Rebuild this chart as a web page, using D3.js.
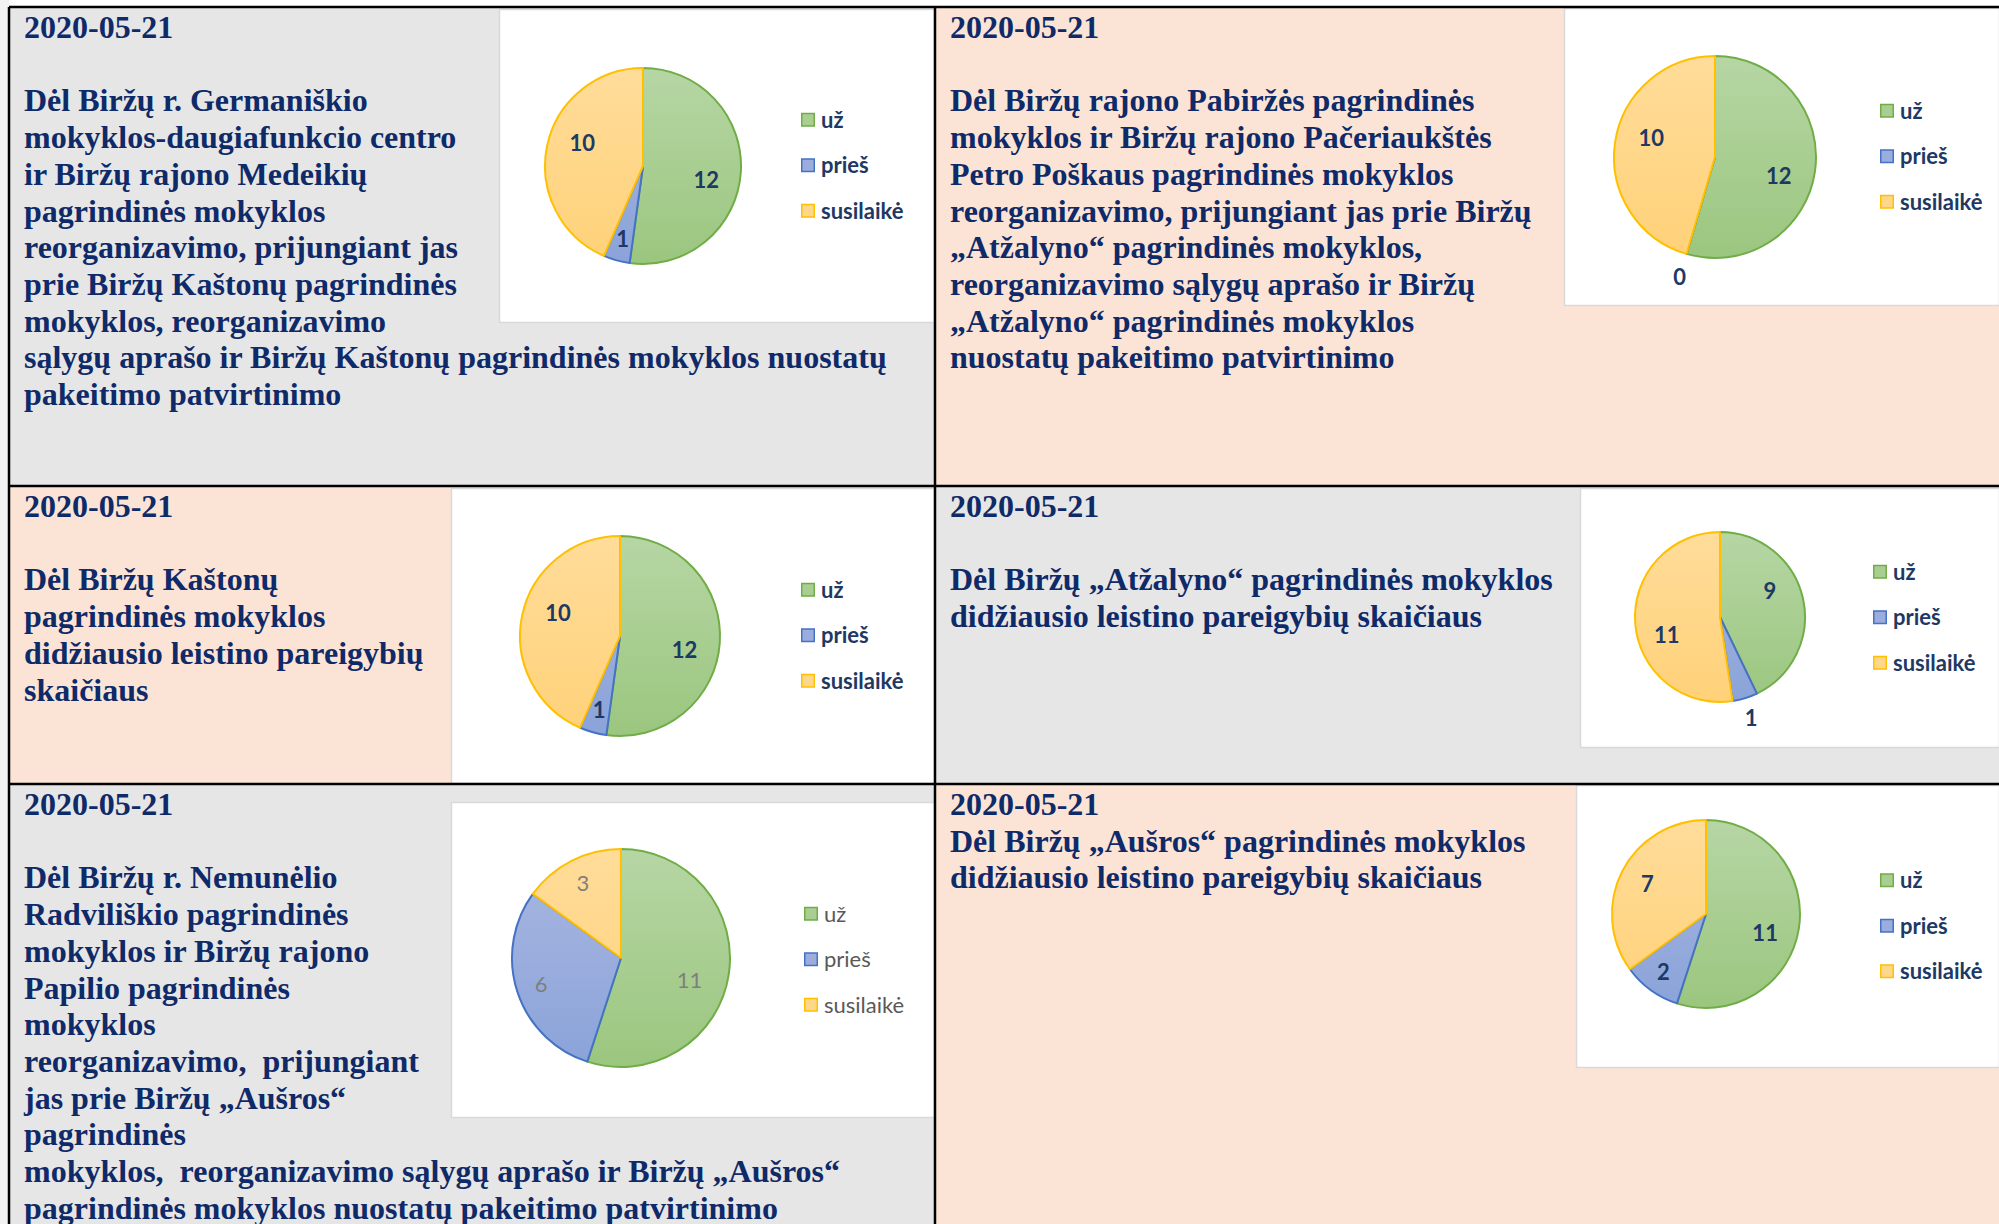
<!DOCTYPE html>
<html>
<head>
<meta charset="utf-8">
<script src="https://cdn.jsdelivr.net/npm/d3@7"></script>
<style>
  html, body { margin: 0; padding: 0; background: #fff; }
  svg { display: block; }
  .body-text { font-family: "Liberation Serif", "Times New Roman", serif; font-weight: bold; font-size: 32px; fill: #0f2a68; }
  .lab { font-family: Lato, "Open Sans", sans-serif; font-size: 22px; }
  .leg { font-family: Lato, "Open Sans", sans-serif; font-size: 22px; }
</style>
</head>
<body>
<div id="chart"></div>
<script>
"use strict";

var categories = ["už", "prieš", "susilaikė"];
var dates = ["2020-05-21", "2020-05-21", "2020-05-21", "2020-05-21", "2020-05-21", "2020-05-21"];
var votes = [[12, 1, 10], [12, 0, 10], [12, 1, 10], [9, 1, 11], [11, 6, 3], [11, 2, 7]];
var titles = [
  ["", "Dėl Biržų r. Germaniškio", "mokyklos-daugiafunkcio centro", "ir Biržų rajono Medeikių",
   "pagrindinės mokyklos", "reorganizavimo, prijungiant jas", "prie Biržų Kaštonų pagrindinės",
   "mokyklos, reorganizavimo", "sąlygų aprašo ir Biržų Kaštonų pagrindinės mokyklos nuostatų",
   "pakeitimo patvirtinimo"],
  ["", "Dėl Biržų rajono Pabiržės pagrindinės", "mokyklos ir Biržų rajono Pačeriaukštės",
   "Petro Poškaus pagrindinės mokyklos", "reorganizavimo, prijungiant jas prie Biržų",
   "„Atžalyno“ pagrindinės mokyklos,", "reorganizavimo sąlygų aprašo ir Biržų",
   "„Atžalyno“ pagrindinės mokyklos", "nuostatų pakeitimo patvirtinimo"],
  ["", "Dėl Biržų Kaštonų", "pagrindinės mokyklos", "didžiausio leistino pareigybių", "skaičiaus"],
  ["", "Dėl Biržų „Atžalyno“ pagrindinės mokyklos", "didžiausio leistino pareigybių skaičiaus"],
  ["", "Dėl Biržų r. Nemunėlio", "Radviliškio pagrindinės", "mokyklos ir Biržų rajono",
   "Papilio pagrindinės", "mokyklos", "reorganizavimo,\u00a0 prijungiant", "jas prie Biržų „Aušros“",
   "pagrindinės", "mokyklos,\u00a0 reorganizavimo sąlygų aprašo ir Biržų „Aušros“",
   "pagrindinės mokyklos nuostatų pakeitimo patvirtinimo"],
  ["Dėl Biržų „Aušros“ pagrindinės mokyklos", "didžiausio leistino pareigybių skaičiaus"]
];

var W = 1999, H = 1224;
var GRAY = "#e7e6e6", PEACH = "#fbe4d5";

// cell + chart box placement
var panels = [
  { cell: [9, 7, 926, 479], bg: GRAY, tx: 24, box: [499, 9, 435, 313], cx: 643, cy: 166, r: 98, legX: 801, turn: 0.15 },
  { cell: [935, 7, 1064, 479], bg: PEACH, tx: 950, box: [1564, 8, 435, 297], cx: 1715, cy: 157, r: 101, legX: 1880, turn: 0.15 },
  { cell: [9, 486, 926, 298], bg: PEACH, tx: 24, box: [451, 488, 483, 295], cx: 620, cy: 636, r: 100, legX: 801, turn: 0.15 },
  { cell: [935, 486, 1064, 298], bg: GRAY, tx: 950, box: [1580, 488, 419, 259], cx: 1720, cy: 617, r: 85, legX: 1873, turn: -0.25, smallOut: true },
  { cell: [9, 784, 926, 440], bg: GRAY, tx: 24, box: [451, 802, 483, 315], cx: 621, cy: 958, r: 109, legX: 804, turn: 0.15, plain: true },
  { cell: [935, 784, 1064, 440], bg: PEACH, tx: 950, box: [1576, 785, 423, 282], cx: 1706, cy: 914, r: 94, legX: 1880, turn: 0.15 }
];

var fills = [["#b6d6a4", "#9bc67f"], ["#aab7e1", "#8aa3d9"], ["#ffdc9a", "#ffd279"]];
var strokes = ["#70ad47", "#4472c4", "#ffc000"];
var lineH = 36.7;

var svg = d3.select("#chart").append("svg").attr("width", W).attr("height", H);
var defs = svg.append("defs");

svg.append("rect").attr("x", 0).attr("y", 0).attr("width", 9).attr("height", H).attr("fill", "#f2f2f2");

var pie = d3.pie().sort(null).value(function (d) { return d; });

panels.forEach(function (p, i) {
  svg.append("rect").attr("x", p.cell[0]).attr("y", p.cell[1]).attr("width", p.cell[2]).attr("height", p.cell[3]).attr("fill", p.bg);

  // chart area
  svg.append("rect").attr("x", p.box[0] + 0.5).attr("y", p.box[1] + 0.5).attr("width", p.box[2]).attr("height", p.box[3])
    .attr("fill", "#fff").attr("stroke", "#d9d9d9").attr("stroke-width", 1.5);

  // text
  var base = p.cell[1] + 31;
  var txt = svg.append("text").attr("class", "body-text");
  txt.append("tspan").attr("x", p.tx).attr("y", base).text(dates[i]);
  titles[i].forEach(function (line, k) {
    if (line === "") return;
    txt.append("tspan").attr("x", p.tx).attr("y", base + (k + 1) * lineH).text(line);
  });

  // gradients
  fills.forEach(function (f, j) {
    var g = defs.append("linearGradient").attr("id", "g" + i + "_" + j).attr("gradientUnits", "userSpaceOnUse")
      .attr("x1", 0).attr("y1", -p.r).attr("x2", 0).attr("y2", p.r);
    g.append("stop").attr("offset", "0%").attr("stop-color", f[0]);
    g.append("stop").attr("offset", "100%").attr("stop-color", f[1]);
  });

  var arc = d3.arc().innerRadius(0).outerRadius(p.r);
  var arcs = pie(votes[i]);
  var g = svg.append("g").attr("transform", "translate(" + p.cx + "," + p.cy + ")");

  g.selectAll("path").data(arcs).enter().append("path")
    .attr("d", arc)
    .attr("fill", function (d, j) { return "url(#g" + i + "_" + j + ")"; })
    .attr("stroke", function (d, j) { return strokes[j]; })
    .attr("stroke-width", 2)
    .attr("stroke-linejoin", "round");

  g.selectAll("text").data(arcs).enter().append("text")
    .attr("class", "lab")
    .attr("text-anchor", "middle")
    .attr("dy", "0.36em")
    .attr("font-weight", p.plain ? "normal" : "bold")
    .attr("fill", p.plain ? "#7f7f7f" : "#203864")
    .attr("transform", function (d) {
      var span = d.endAngle - d.startAngle;
      var a = (d.startAngle + d.endAngle) / 2;
      var k = 0.66;
      if (d.value === 0 || (p.smallOut && span < 0.5)) k = 1.24;
      else if (span < 2.0) k = 0.77;
      else if (span < 2.5) k = 0.70;
      else a += p.turn;
      return "translate(" + (Math.sin(a) * p.r * k) + "," + (-Math.cos(a) * p.r * k) + ")";
    })
    .text(function (d) { return d.value; });

  // legend
  var legY = d3.scalePoint().domain(categories).range([-45.5, 45.5]);
  var midY = p.box[1] + p.box[3] / 2;
  var leg = svg.append("g").attr("transform", "translate(" + p.legX + "," + midY + ")");
  var item = leg.selectAll("g").data(categories).enter().append("g")
    .attr("transform", function (d) { return "translate(0," + legY(d) + ")"; });
  item.append("rect").attr("x", 0.75).attr("y", -6.5).attr("width", 12.5).attr("height", 12.5)
    .attr("fill", function (d, j) { return "url(#g" + i + "_" + j + ")"; })
    .attr("stroke", function (d, j) { return strokes[j]; }).attr("stroke-width", 1.5);
  item.append("text").attr("class", "leg").attr("x", 20).attr("dy", "0.36em")
    .attr("font-weight", p.plain ? "normal" : "bold")
    .attr("fill", p.plain ? "#595959" : "#203864")
    .text(function (d) { return d; });
});

// table rules
var rules = [[9, 7, W, 7], [9, 7, 9, H], [935, 7, 935, H], [9, 486, W, 486], [9, 784, W, 784]];
svg.selectAll("line.rule").data(rules).enter().append("line").attr("class", "rule")
  .attr("x1", function (d) { return d[0]; }).attr("y1", function (d) { return d[1]; })
  .attr("x2", function (d) { return d[2]; }).attr("y2", function (d) { return d[3]; })
  .attr("stroke", "#000").attr("stroke-width", 2.5);
</script>
</body>
</html>
